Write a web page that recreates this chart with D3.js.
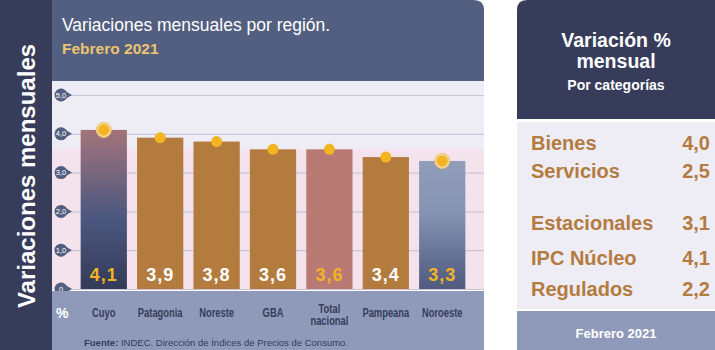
<!DOCTYPE html>
<html>
<head>
<meta charset="utf-8">
<script src="https://cdn.jsdelivr.net/npm/d3@7"></script>
<style>
  body { margin: 0; background: #ffffff; }
  svg { display: block; font-family: "Liberation Sans", Arial, sans-serif; }
</style>
</head>
<body>
<svg id="chart" width="715" height="350"></svg>
<script>
// data
const regions = ["Cuyo", "Patagonia", "Noreste", "GBA", "Total nacional", "Pampeana", "Noroeste"];
const values = [4.1, 3.9, 3.8, 3.6, 3.6, 3.4, 3.3];
const yTicks = [0, 1, 2, 3, 4, 5];
const categories = ["Bienes", "Servicios", "Estacionales", "IPC Núcleo", "Regulados"];
const categoryValues = [4.0, 2.5, 3.1, 4.1, 2.2];

const fmt = v => d3.format(".1f")(v).replace(".", ",");

const svg = d3.select("#chart");
const defs = svg.append("defs");

const gCuyo = defs.append("linearGradient").attr("id", "gCuyo")
  .attr("x1", 0).attr("y1", 0).attr("x2", 0).attr("y2", 1);
gCuyo.append("stop").attr("offset", "0%").attr("stop-color", "#a3737b");
gCuyo.append("stop").attr("offset", "55%").attr("stop-color", "#4c5880");
gCuyo.append("stop").attr("offset", "100%").attr("stop-color", "#343a58");

const gNoro = defs.append("linearGradient").attr("id", "gNoro")
  .attr("x1", 0).attr("y1", 0).attr("x2", 0).attr("y2", 1);
gNoro.append("stop").attr("offset", "0%").attr("stop-color", "#919db9");
gNoro.append("stop").attr("offset", "40%").attr("stop-color", "#8693b2");
gNoro.append("stop").attr("offset", "100%").attr("stop-color", "#4f5a7e");

// left strip
svg.append("rect").attr("x", 0).attr("y", 0).attr("width", 52).attr("height", 350).attr("fill", "#363c5a");
svg.append("text")
  .attr("transform", "translate(35,176) rotate(-90)")
  .attr("text-anchor", "middle")
  .attr("fill", "#ffffff")
  .style("font-size", "24px").style("font-weight", "bold")
  .text("Variaciones mensuales");

// main panel
svg.append("path")
  .attr("d", "M52,0 H474 Q484,0 484,10 V81 H52 Z")
  .attr("fill", "#535f80");
svg.append("text").attr("x", 62).attr("y", 31).attr("fill", "#ffffff")
  .style("font-size", "17.5px").text("Variaciones mensuales por región.");
svg.append("text").attr("x", 62).attr("y", 54).attr("fill", "#ecc46f")
  .style("font-size", "15.5px").style("font-weight", "bold").text("Febrero 2021");

const y = d3.scaleLinear().domain([0, 5]).range([289, 95]);
const x = d3.scaleBand().domain(regions).range([75, 471]).paddingInner(0.18).paddingOuter(0.1);

svg.append("rect").attr("x", 52).attr("y", 81).attr("width", 432).attr("height", 209).attr("fill", "#eeecf5");
const nacional = values[regions.indexOf("Total nacional")];
svg.append("rect").attr("x", 52).attr("y", y(nacional)).attr("width", 432)
  .attr("height", y(0) - y(nacional)).attr("fill", "#f4e2ed");

// grid + tick markers
const grid = svg.append("g")
  .attr("transform", "translate(484,0)")
  .call(d3.axisLeft(y).tickValues(yTicks).tickSize(414).tickFormat(""));
grid.select(".domain").remove();
grid.selectAll(".tick line").attr("stroke", "#c9c5d6").attr("stroke-width", 1.2);

const tk = svg.append("g").selectAll("g").data(yTicks).join("g")
  .attr("transform", d => `translate(61,${y(d)})`);
tk.append("path").attr("d", "M0,-6.5 L11,0 L0,6.5 Z").attr("fill", "#535f80");
tk.append("circle").attr("r", 6.5).attr("fill", "#535f80");
tk.append("text").attr("text-anchor", "middle").attr("dy", "0.35em")
  .attr("fill", "#ffffff").style("font-size", "7.5px")
  .text(d => d === 0 ? "0" : fmt(d));

// bars
const barFill = d => d === "Cuyo" ? "url(#gCuyo)" : d === "Noroeste" ? "url(#gNoro)" :
  d === "Total nacional" ? "#b97a73" : "#b47b3f";
const data = regions.map((r, i) => ({ r, v: values[i] }));

svg.append("g").selectAll("rect").data(data).join("rect")
  .attr("x", d => x(d.r)).attr("y", d => y(d.v))
  .attr("width", x.bandwidth()).attr("height", d => y(0) - y(d.v))
  .attr("fill", d => barFill(d.r));

svg.append("g").selectAll("text").data(data).join("text")
  .attr("x", d => x(d.r) + x.bandwidth() / 2).attr("y", 281)
  .attr("text-anchor", "middle")
  .attr("fill", d => ["Cuyo", "Total nacional", "Noroeste"].includes(d.r) ? "#f1b324" : "#ffffff")
  .style("font-size", "18px").style("font-weight", "bold").style("letter-spacing", "1px")
  .text(d => fmt(d.v));

const dots = svg.append("g").selectAll("g").data(data).join("g")
  .attr("transform", d => `translate(${x(d.r) + x.bandwidth() / 2},${y(d.v)})`);
dots.filter(d => d.r === "Cuyo" || d.r === "Noroeste").append("circle")
  .attr("r", 7.5).attr("fill", "#f3d49a").attr("stroke", "#efc26a").attr("stroke-width", 1);
dots.append("circle").attr("r", 5.5).attr("fill", "#f2b41f");

// bottom band
svg.append("rect").attr("x", 52).attr("y", 291).attr("width", 432).attr("height", 59).attr("fill", "#8f9aba");
svg.append("text").attr("x", 56).attr("y", 318).attr("fill", "#ffffff")
  .style("font-size", "14px").style("font-weight", "bold").text("%");

const xAxis = svg.append("g").attr("transform", "translate(0,291)")
  .call(d3.axisBottom(x).tickSize(0).tickPadding(0));
xAxis.select(".domain").remove();
xAxis.selectAll(".tick text").remove();
xAxis.selectAll(".tick").each(function(d) {
  const lines = d === "Total nacional" ? ["Total", "nacional"] : [d];
  const t = d3.select(this).append("text")
    .attr("transform", "scale(0.78,1)")
    .attr("text-anchor", "middle").attr("fill", "#363c5a")
    .style("font-size", "12px").style("font-weight", "bold");
  lines.forEach((l, i) => {
    t.append("tspan").attr("x", 0)
      .attr("y", lines.length > 1 ? 22 + i * 12.5 : 26).text(l);
  });
});

const src = svg.append("text").attr("x", 84).attr("y", 346).attr("fill", "#363c5a").style("font-size", "9.5px");
src.append("tspan").style("font-weight", "bold").text("Fuente:");
src.append("tspan").text(" INDEC. Dirección de Índices de Precios de Consumo.");

// right panel
svg.append("path").attr("d", "M517,119 V10 Q517,0 527,0 H715 V119 Z").attr("fill", "#363c5a");
svg.append("rect").attr("x", 517).attr("y", 122).attr("width", 198).attr("height", 187).attr("fill", "#eeecf5");
svg.append("rect").attr("x", 517).attr("y", 311).attr("width", 198).attr("height", 39).attr("fill", "#8f9aba");

const hx = 616;
svg.append("text").attr("x", hx).attr("y", 47).attr("text-anchor", "middle").attr("fill", "#ffffff")
  .style("font-size", "19.5px").style("font-weight", "bold").text("Variación %");
svg.append("text").attr("x", hx).attr("y", 68).attr("text-anchor", "middle").attr("fill", "#ffffff")
  .style("font-size", "19.5px").style("font-weight", "bold").text("mensual");
svg.append("text").attr("x", hx).attr("y", 90).attr("text-anchor", "middle").attr("fill", "#ffffff")
  .style("font-size", "14px").style("font-weight", "bold").text("Por categorías");

const rowY = [150, 178, 230, 265, 296];
const rows = svg.append("g").selectAll("g").data(categories).join("g");
rows.append("text").attr("x", 531).attr("y", (d, i) => rowY[i]).attr("fill", "#b47b3f")
  .style("font-size", "20px").style("font-weight", "bold").text(d => d);
rows.append("text").attr("x", 710).attr("y", (d, i) => rowY[i]).attr("text-anchor", "end").attr("fill", "#b47b3f")
  .style("font-size", "20px").style("font-weight", "bold").text((d, i) => fmt(categoryValues[i]));

svg.append("text").attr("x", hx).attr("y", 338).attr("text-anchor", "middle").attr("fill", "#ffffff")
  .style("font-size", "13px").style("font-weight", "bold").text("Febrero 2021");
</script>
</body>
</html>
